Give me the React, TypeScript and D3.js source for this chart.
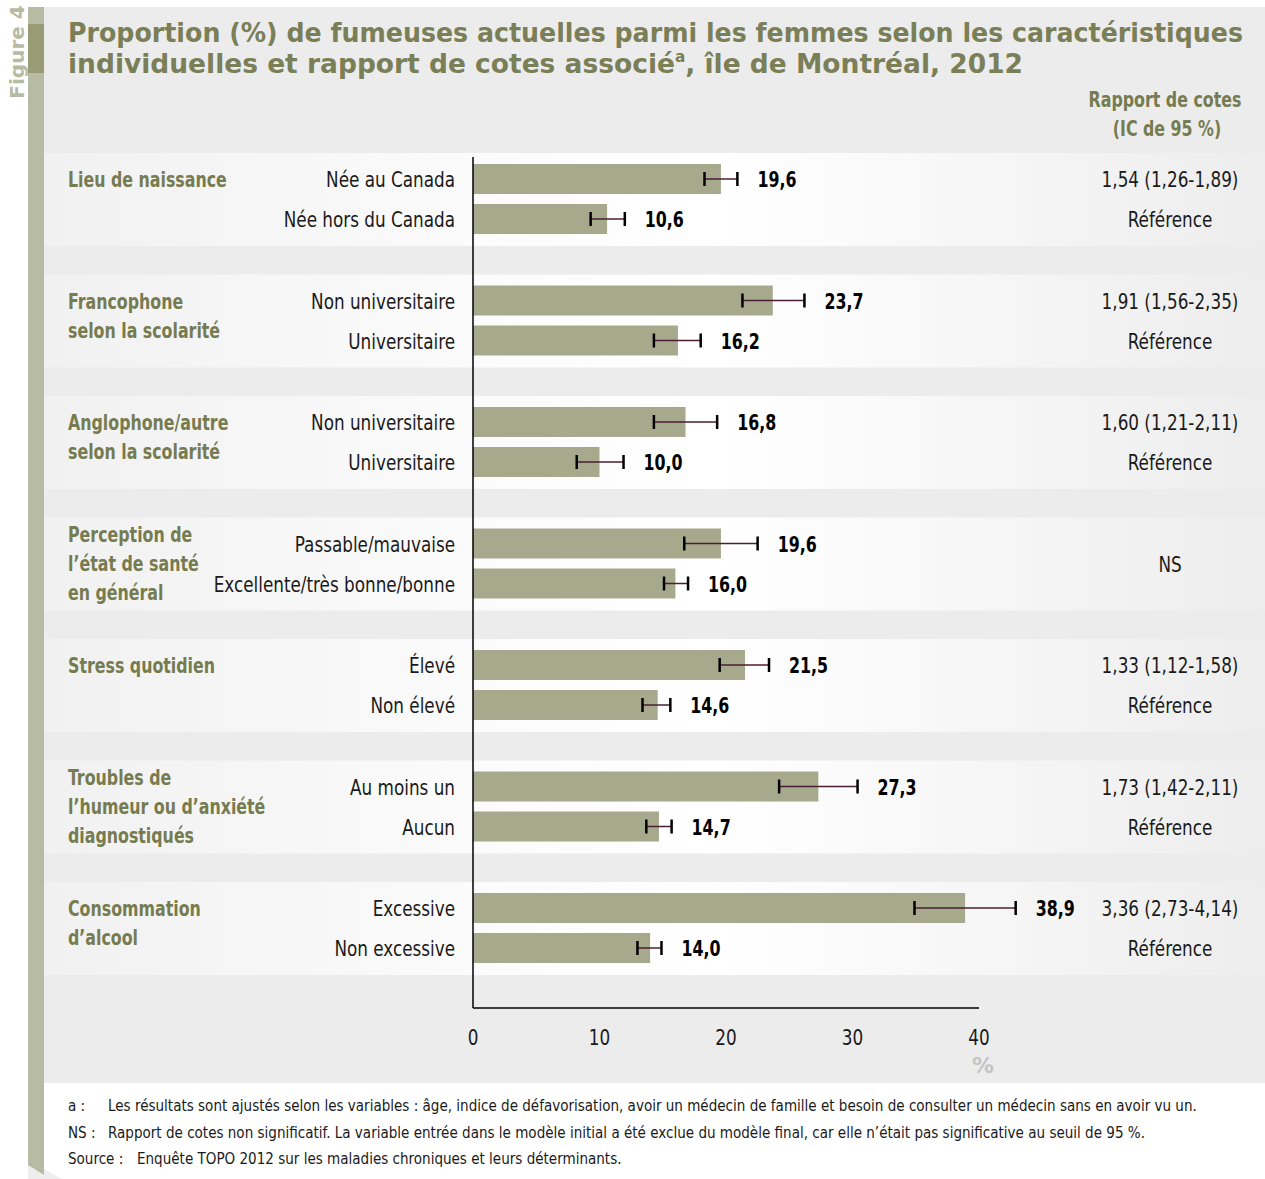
import React from "react";
import * as d3 from "d3";

const groups = [
  ["Lieu de naissance"],
  ["Francophone", "selon la scolarité"],
  ["Anglophone/autre", "selon la scolarité"],
  ["Perception de", "l’état de santé", "en général"],
  ["Stress quotidien"],
  ["Troubles de", "l’humeur ou d’anxiété", "diagnostiqués"],
  ["Consommation", "d’alcool"],
];
const rowLabels = [
  ["Née au Canada", "Née hors du Canada"],
  ["Non universitaire", "Universitaire"],
  ["Non universitaire", "Universitaire"],
  ["Passable/mauvaise", "Excellente/très bonne/bonne"],
  ["Élevé", "Non élevé"],
  ["Au moins un", "Aucun"],
  ["Excessive", "Non excessive"],
];
const values = [
  [19.6, 10.6],
  [23.7, 16.2],
  [16.8, 10.0],
  [19.6, 16.0],
  [21.5, 14.6],
  [27.3, 14.7],
  [38.9, 14.0],
];
const ciLow = [
  [18.3, 9.3],
  [21.3, 14.3],
  [14.3, 8.2],
  [16.7, 15.1],
  [19.5, 13.4],
  [24.2, 13.7],
  [34.9, 13.0],
];
const ciHigh = [
  [20.9, 12.0],
  [26.2, 18.0],
  [19.3, 11.9],
  [22.5, 17.0],
  [23.4, 15.6],
  [30.4, 15.7],
  [42.9, 14.9],
];
const oddsRatios = [
  ["1,54 (1,26-1,89)", "Référence"],
  ["1,91 (1,56-2,35)", "Référence"],
  ["1,60 (1,21-2,11)", "Référence"],
  ["NS"],
  ["1,33 (1,12-1,58)", "Référence"],
  ["1,73 (1,42-2,11)", "Référence"],
  ["3,36 (2,73-4,14)", "Référence"],
];
const xTicks = [0, 10, 20, 30, 40];
const footnotes = [
  ["a :", "Les résultats sont ajustés selon les variables : âge, indice de défavorisation, avoir un médecin de famille et besoin de consulter un médecin sans en avoir vu un.", 108],
  ["NS :", "Rapport de cotes non significatif. La variable entrée dans le modèle initial a été exclue du modèle final, car elle n’était pas significative au seuil de 95 %.", 108],
  ["Source :", "Enquête TOPO 2012 sur les maladies chroniques et leurs déterminants.", 137],
];

const COND = "'DejaVu Sans Condensed', 'DejaVu Sans', sans-serif";
const OLIVE = "#767b50";
const TXT = "#1a1a1a";
const fmt = (v: number) => v.toFixed(1).replace(".", ",");

// condensed text: horizontal squeeze around the anchor point
function CText(props: {
  x: number;
  y: number;
  sx?: number;
  bold?: boolean;
  size?: number;
  fill?: string;
  anchor?: string;
  children: React.ReactNode;
}) {
  const { x, y, sx, bold, size = 22, fill = TXT, anchor = "start", children } = props;
  const s = sx ?? (bold ? 0.8 : 0.85);
  return (
    <text
      transform={`translate(${x},${y}) scale(${s},1)`}
      textAnchor={anchor}
      fontFamily={COND}
      fontWeight={bold ? "bold" : "normal"}
      fontSize={size}
      fill={fill}
    >
      {children}
    </text>
  );
}

export default function App() {
  const width = 1265;
  const height = 1179;

  const x = d3.scaleLinear().domain([0, 40]).range([473, 979]);
  const gy = d3.scaleLinear().domain([0, 1]).range([153, 274.5]);
  const inner = d3.scaleBand<number>().domain([0, 1]).range([11, 81]).paddingInner(0.25);
  const bandH = 93;
  const bw = inner.bandwidth();

  return (
    <svg width={width} height={height} style={{ position: "absolute", left: 0, top: 0, display: "block" }}>
      <defs>
        <linearGradient id="band" x1="0" x2="1" y1="0" y2="0">
          <stop offset="0%" stopColor="#f1f1f1" />
          <stop offset="35%" stopColor="#fbfbfb" />
          <stop offset="55%" stopColor="#ffffff" />
          <stop offset="100%" stopColor="#ededed" />
        </linearGradient>
      </defs>
      <rect x={0} y={0} width={width} height={height} fill="#ffffff" />
      {/* shadow at bottom left */}
      <polygon points="28,1160 62,1179 28,1179" fill="#eeeeee" />
      {/* panel */}
      <rect x={44} y={7} width={width - 44} height={1076} fill="#ececec" />
      {/* left stripe */}
      <polygon points="28,7 44,7 44,1175 28,1165" fill="#b8bba3" />
      <rect x={28} y={24} width={16} height={49} fill="#989b74" />
      <text
        transform="translate(24,52) rotate(-90)"
        textAnchor="middle"
        fontFamily="'DejaVu Sans', sans-serif"
        fontWeight="bold"
        fontSize={20}
        fill="#b8bba3"
      >
        Figure 4
      </text>

      {/* title */}
      <g fontFamily="'DejaVu Sans', sans-serif" fontWeight="bold" fill="#7a7f57">
        <text x={68} y={42} fontSize={26} textLength={1175} lengthAdjust="spacingAndGlyphs">
          Proportion (%) de fumeuses actuelles parmi les femmes selon les caractéristiques
        </text>
        <text x={68} y={73} fontSize={26} textLength={955} lengthAdjust="spacingAndGlyphs">
          individuelles et rapport de cotes associé<tspan fontSize={15} dy={-11}>a</tspan>
          <tspan dy={11}>, île de Montréal, 2012</tspan>
        </text>
      </g>

      <CText x={1165} y={107} bold fill={OLIVE} anchor="middle">Rapport de cotes</CText>
      <CText x={1167} y={136} bold fill={OLIVE} anchor="middle">(IC de 95 %)</CText>

      {/* bands */}
      {groups.map((_, i) => (
        <rect key={"b" + i} x={44} y={gy(i)} width={width - 44} height={bandH} fill="url(#band)" />
      ))}

      {/* groups */}
      {groups.map((lines, i) => {
        const y0 = gy(i);
        const yc1 = y0 + (inner(0) as number) + bw / 2;
        const yc2 = y0 + (inner(1) as number) + bw / 2;
        const startY = lines.length === 3 ? yc1 - 10 : yc1;
        return (
          <g key={"g" + i}>
            {lines.map((l, k) => (
              <CText key={k} x={68} y={startY + k * 29 + 8} bold fill={OLIVE}>
                {l}
              </CText>
            ))}
            {[0, 1].map((j) => {
              const yb = y0 + (inner(j) as number);
              const yc = yb + bw / 2;
              const v = values[i][j];
              const lo = x(ciLow[i][j]);
              const hi = x(ciHigh[i][j]);
              return (
                <g key={j}>
                  <CText x={455} y={yc + 8} anchor="end">
                    {rowLabels[i][j]}
                  </CText>
                  <rect x={x(0)} y={yb} width={x(v) - x(0)} height={bw} fill="#a7a98d" />
                  <line x1={lo} x2={hi} y1={yc} y2={yc} stroke="#4a1f33" strokeWidth={1.5} />
                  <line x1={lo} x2={lo} y1={yc - 7} y2={yc + 7} stroke="#000" strokeWidth={2.5} />
                  <line x1={hi} x2={hi} y1={yc - 7} y2={yc + 7} stroke="#000" strokeWidth={2.5} />
                  <CText x={hi + 20} y={yc + 8} bold fill="#000">
                    {fmt(v)}
                  </CText>
                </g>
              );
            })}
            {oddsRatios[i].length === 1 ? (
              <CText x={1170} y={(yc1 + yc2) / 2 + 8} anchor="middle">
                {oddsRatios[i][0]}
              </CText>
            ) : (
              [yc1, yc2].map((yc, j) => (
                <CText key={"o" + j} x={1170} y={yc + 8} anchor="middle">
                  {oddsRatios[i][j]}
                </CText>
              ))
            )}
          </g>
        );
      })}

      {/* axes */}
      <line x1={x(0)} x2={x(0)} y1={157} y2={1008} stroke="#000" strokeWidth={1.5} />
      <line x1={x(0)} x2={x(40)} y1={1008} y2={1008} stroke="#000" strokeWidth={1.5} />
      {xTicks.map((t) => (
        <CText key={t} x={x(t)} y={1045} anchor="middle">
          {t}
        </CText>
      ))}
      <text x={983} y={1073} textAnchor="middle" fontFamily="'DejaVu Sans', sans-serif" fontWeight="bold" fontSize={22} fill="#c4c4c4">
        %
      </text>

      {/* footnotes */}
      {footnotes.map(([a, b, bx], i) => (
        <g key={"f" + i}>
          <CText x={68} y={1111 + i * 26.5} size={16} sx={0.94}>{a}</CText>
          <CText x={bx as number} y={1111 + i * 26.5} size={16} sx={0.94}>{b}</CText>
        </g>
      ))}
    </svg>
  );
}
